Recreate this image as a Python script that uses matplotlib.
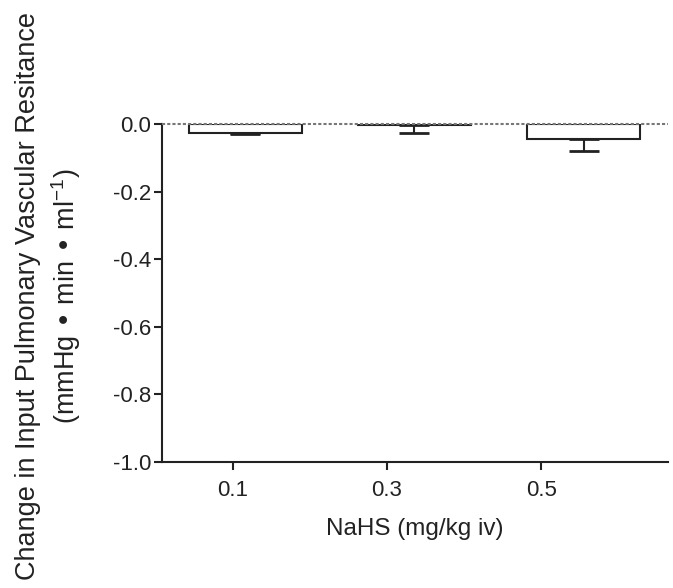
import numpy as np
import matplotlib.pyplot as plt

plt.rcParams['font.family'] = ['Liberation Sans', 'DejaVu Sans']

# data
doses = ['0.1', '0.3', '0.5']
change = [-0.027, -0.003, -0.045]
sem = [0.003, 0.025, 0.035]

bar_pos = np.arange(len(doses))
tick_pos = [-0.074, 0.837, 1.749]  # labels sit a bit left of the bars in the original

fig = plt.figure(figsize=(6.73, 5.88), dpi=100)
ax = fig.add_axes([0.2407, 0.2143, 0.7519, 0.5748])

ax.bar(bar_pos, change, width=0.67, color='white', edgecolor='#222222', linewidth=1.5)
ax.errorbar(bar_pos, change, yerr=[sem, [0, 0, 0]], fmt='none', ecolor='#222222',
            elinewidth=1.5, capsize=10.5, capthick=2)
ax.axhline(0, color='#777777', linewidth=1.5, linestyle=(0, (1.5, 1)), clip_on=False, zorder=5)

ax.set_xlim(-0.494, 2.5)
ax.set_ylim(-1.0, 0.0)
yt = np.arange(-1.0, 0.01, 0.2)
ax.set_yticks(yt)
ax.set_yticklabels(['0.0' if abs(v) < 1e-9 else f'{v:.1f}' for v in yt])
ax.set_xticks(tick_pos)
ax.set_xticklabels(doses)

for s in ['top', 'right']:
    ax.spines[s].set_visible(False)
for s in ['left', 'bottom']:
    ax.spines[s].set_linewidth(1.5)
    ax.spines[s].set_color('#222222')
ax.tick_params(direction='out', length=6, width=1.5, colors='#222222', labelsize=16,
               labelcolor='#222222')
ax.tick_params(axis='y', pad=2)
ax.tick_params(axis='x', pad=7)

ax.set_xlabel('NaHS (mg/kg iv)', fontsize=17.5, color='#222222', labelpad=12)
ax.set_ylabel('Change in Input Pulmonary Vascular Resitance\n(mmHg • min • ml$^{\\mathregular{-1}}$)',
              fontsize=19.5, color='#222222', linespacing=1.3)
ax.yaxis.set_label_coords(-0.157, 0.49)

fig.savefig('out.png', dpi=100)
